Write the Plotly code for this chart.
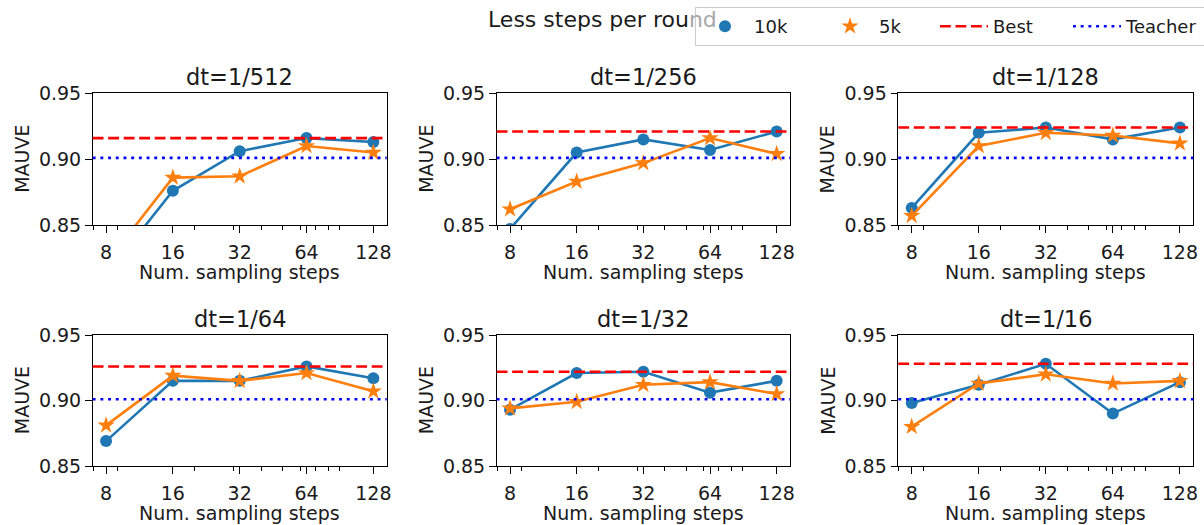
import plotly.graph_objects as go

# Sampling-step counts on the x axis and per-panel step sizes
steps = [8, 16, 32, 64, 128]
panel_titles = ["dt=1/512", "dt=1/256", "dt=1/128", "dt=1/64", "dt=1/32", "dt=1/16"]

# MAUVE scores per panel (rows follow panel_titles)
mauve_10k = [
    [0.812, 0.876, 0.906, 0.916, 0.913],
    [0.847, 0.905, 0.915, 0.907, 0.921],
    [0.863, 0.920, 0.924, 0.915, 0.924],
    [0.869, 0.915, 0.915, 0.926, 0.917],
    [0.893, 0.921, 0.922, 0.906, 0.915],
    [0.898, 0.912, 0.928, 0.890, 0.914],
]
mauve_5k = [
    [0.821, 0.886, 0.887, 0.910, 0.905],
    [0.862, 0.883, 0.897, 0.916, 0.904],
    [0.857, 0.910, 0.920, 0.918, 0.912],
    [0.881, 0.919, 0.915, 0.921, 0.907],
    [0.894, 0.899, 0.912, 0.914, 0.905],
    [0.880, 0.913, 0.920, 0.913, 0.915],
]
best = [0.916, 0.921, 0.924, 0.926, 0.922, 0.928]
teacher = [0.901, 0.901, 0.901, 0.901, 0.901, 0.901]

y_ticks = [0.85, 0.90, 0.95]
minor_ticks = [7, 9, 20, 30, 40, 50, 60, 70, 80, 90]

W, H = 1204, 525
FONT = "DejaVu Sans"
BLUE, ORANGE = "#1f77b4", "#ff7f0e"
TXT = "#1a1a1a"


def px(x):
    return x / W


def py(y):
    return 1 - y / H


# Axes boxes in pixels: (left, right) per column, (top, bottom) per row
cols = [(92.7, 386.7), (496.7, 790.0), (898.3, 1193.3)]
rows = [(93.3, 225.0), (335.0, 466.0)]

log2 = 0.30103
x_range = [0.90309 - 0.2 * log2, 2.10721 + 0.2 * log2]

fig = go.Figure()
layout = dict(
    width=W, height=H,
    margin=dict(l=0, r=0, t=0, b=0, autoexpand=False),
    paper_bgcolor="white", plot_bgcolor="white",
    font=dict(family=FONT, size=19, color=TXT),
    showlegend=True,
    legend=dict(
        orientation="h", x=px(695), y=py(7), xanchor="left", yanchor="top",
        bgcolor="rgba(255,255,255,0.8)", bordercolor="#cccccc", borderwidth=1,
        font=dict(family=FONT, size=18, color=TXT),
        itemwidth=48, traceorder="normal",
    ),
)
annotations = []
shapes = []

for i in range(6):
    r, c = divmod(i, 3)
    n = "" if i == 0 else str(i + 1)
    xa, ya = "x" + n, "y" + n
    (l, rr), (t, b) = cols[c], rows[r]

    layout["xaxis" + n] = dict(
        domain=[px(l), px(rr)], anchor=ya, type="log", range=x_range,
        tickvals=steps, ticktext=[str(s) for s in steps],
        ticks="outside", ticklen=6.5, tickwidth=1.4, tickcolor="black",
        showline=True, linecolor="black", linewidth=1.4, mirror=True,
        showgrid=False, zeroline=False, ticklabelstandoff=3,
        tickfont=dict(family=FONT, size=19, color=TXT),
        minor=dict(tickvals=minor_ticks, ticks="outside", ticklen=3.8,
                   tickwidth=1.2, tickcolor="black", showgrid=False),
    )
    layout["yaxis" + n] = dict(
        domain=[py(b), py(t)], anchor=xa, range=[0.85, 0.95],
        tickvals=y_ticks, tickformat=".2f",
        ticks="outside", ticklen=6.5, tickwidth=1.4, tickcolor="black",
        showline=True, linecolor="black", linewidth=1.4, mirror=True,
        showgrid=False, zeroline=False,
        tickfont=dict(family=FONT, size=19, color=TXT),
    )

    # connecting lines (kept out of the legend) and markers (in the legend)
    for vals, name, color, symbol, size, rank, lw in (
        (mauve_10k[i], "10k", BLUE, "circle", 12, 1, 62),
        (mauve_5k[i], "5k", ORANGE, "star", 13, 2, 51),
    ):
        fig.add_trace(go.Scatter(
            x=steps, y=vals, xaxis=xa, yaxis=ya, name=name, mode="lines",
            line=dict(color=color, width=2.6), showlegend=False,
            legendgroup=name, hoverinfo="skip",
        ))
        fig.add_trace(go.Scatter(
            x=steps, y=vals, xaxis=xa, yaxis=ya, name=name, mode="markers",
            marker=dict(symbol=symbol, size=size, color=color),
            legendgroup=name, showlegend=(i == 0), legendrank=rank,
            legendwidth=lw,
        ))

    shapes.append(dict(
        type="line", xref=xa + " domain", yref=ya, x0=0, x1=1,
        y0=best[i], y1=best[i], layer="above",
        line=dict(color="red", width=2.6, dash="10.8px,4.7px"),
        name="Best", legendgroup="best", showlegend=(i == 0),
        legendrank=3, legendwidth=70,
    ))
    shapes.append(dict(
        type="line", xref=xa + " domain", yref=ya, x0=0, x1=1,
        y0=teacher[i], y1=teacher[i], layer="above",
        line=dict(color="blue", width=2.6, dash="2.9px,4.8px"),
        name="Teacher", legendgroup="teacher", showlegend=(i == 0),
        legendrank=4, legendwidth=80,
    ))

    cx = (l + rr) / 2
    annotations.append(dict(
        text=panel_titles[i], xref="paper", yref="paper",
        x=px(cx), y=py(t - 16), xanchor="center", yanchor="middle",
        showarrow=False, font=dict(family=FONT, size=22.5, color=TXT),
    ))
    annotations.append(dict(
        text="MAUVE", xref="paper", yref="paper", textangle=-90,
        x=px(l - 71), y=py((t + b) / 2), xanchor="center", yanchor="middle",
        showarrow=False, font=dict(family=FONT, size=19, color=TXT),
    ))
    annotations.append(dict(
        text="Num. sampling steps", xref="paper", yref="paper",
        x=px(cx), y=py(b + 47), xanchor="center", yanchor="middle",
        showarrow=False, font=dict(family=FONT, size=19, color=TXT),
    ))

# Figure title; the tail that sits under the translucent legend box is muted
annotations.append(dict(
    text="Less steps per rou<span style='color:#a8a8a8'>nd</span>",
    xref="paper", yref="paper",
    x=0.5, y=py(20), xanchor="center", yanchor="middle",
    showarrow=False, font=dict(family=FONT, size=22, color=TXT),
))

layout["annotations"] = annotations
layout["shapes"] = shapes
fig.update_layout(**layout)

fig.write_html("out.html")
